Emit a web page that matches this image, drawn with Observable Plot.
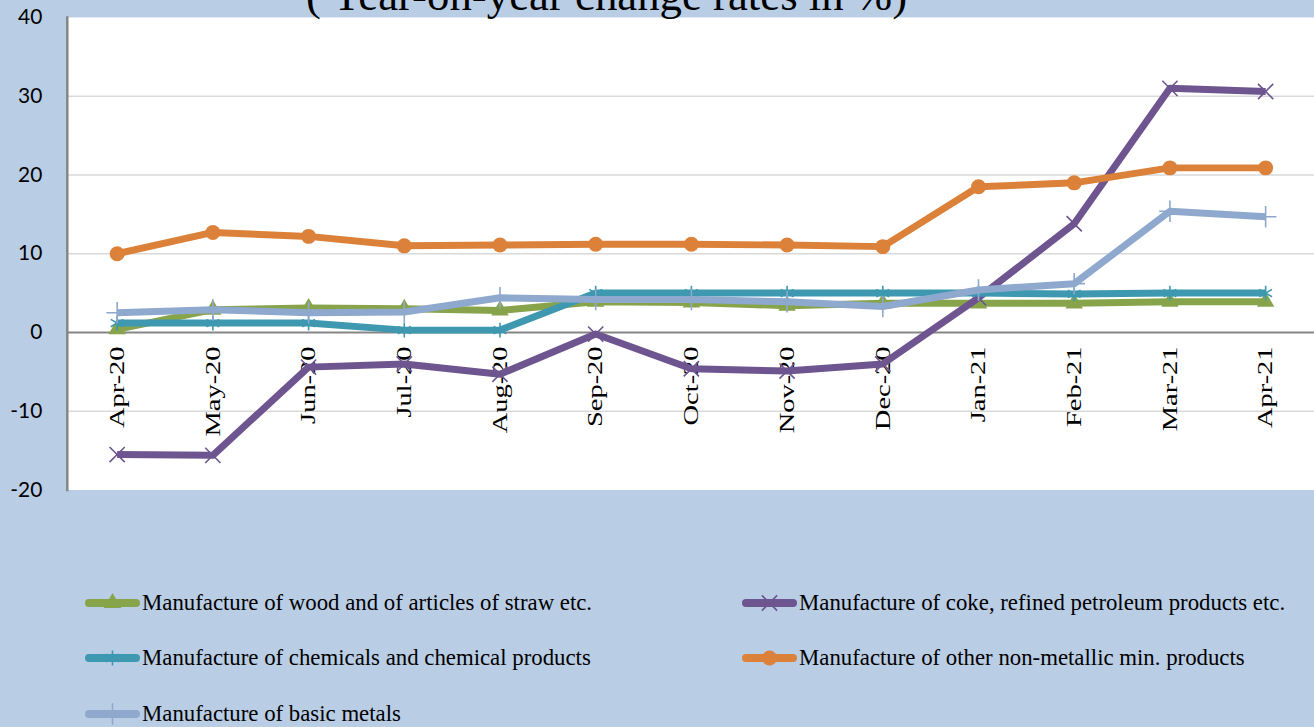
<!DOCTYPE html>
<html>
<head>
<meta charset="utf-8">
<script src="https://cdn.jsdelivr.net/npm/d3@7"></script>
<script src="https://cdn.jsdelivr.net/npm/@observablehq/plot@0.6"></script>
<style>
  html, body { margin: 0; padding: 0; background: #B9CDE5; }
  #wrap { position: relative; width: 1314px; height: 727px; background: #B9CDE5; overflow: hidden; }
  #chart { position: absolute; left: 0; top: 0; }
  #title { position: absolute; left: 306px; top: -27px; font-family: "Liberation Serif", "Times New Roman", serif; font-size: 44.8px; line-height: 1; white-space: nowrap; color: #000; }
  .leg { position: absolute; display: flex; align-items: center; font-family: "Liberation Serif", "Times New Roman", serif; font-size: 22.8px; color: #000; white-space: nowrap; }
  .leg svg { display: block; margin-right: 1px; }
</style>
</head>
<body>
<div id="wrap">
  <div id="chart"></div>
  <div id="title">( Year-on-year change rates in %)</div>
  <div id="legend"></div>
</div>
<script>
const months = ["Apr-20","May-20","Jun-20","Jul-20","Aug-20","Sep-20","Oct-20","Nov-20","Dec-20","Jan-21","Feb-21","Mar-21","Apr-21"];
const yTicks = [-20, -10, 0, 10, 20, 30, 40];
const gridTicks = [-10, 10, 20, 30];

const seriesNames = [
  "Manufacture of wood and of articles of straw etc.",
  "Manufacture of coke, refined petroleum products etc.",
  "Manufacture of chemicals and chemical products",
  "Manufacture of other non-metallic min. products",
  "Manufacture of basic metals"
];
const wood   = [0.4, 2.9, 3.1, 3.0, 2.8, 3.9, 3.8, 3.4, 3.7, 3.7, 3.7, 3.9, 3.9];
const coke   = [-15.5, -15.6, -4.4, -4.0, -5.3, -0.2, -4.6, -4.9, -4.0, 4.4, 13.8, 31.0, 30.6];
const chem   = [1.2, 1.2, 1.2, 0.3, 0.3, 5.0, 5.0, 5.0, 5.0, 5.0, 4.9, 5.0, 5.0];
const nonmet = [10.0, 12.7, 12.2, 11.0, 11.1, 11.2, 11.2, 11.1, 10.9, 18.5, 19.0, 20.9, 20.9];
const metals = [2.5, 2.9, 2.5, 2.6, 4.4, 4.2, 4.2, 3.9, 3.3, 5.4, 6.2, 15.4, 14.7];

const colors  = ["#87A44B", "#6E5590", "#3D98B0", "#DC8139", "#8EA8CE"];
const symbols = ["triangle", "times", "asterisk", "circle", "plus"];
const values  = [wood, coke, chem, nonmet, metals];

const series = seriesNames.map((name, i) => ({
  name, color: colors[i], symbol: symbols[i],
  data: months.map((m, j) => ({month: m, value: values[i][j]}))
}));

const marks = [
  Plot.frame({fill: "white", stroke: null}),
  Plot.ruleY(gridTicks, {stroke: "#D9D9D9", strokeWidth: 1.5}),
  Plot.ruleY([0], {stroke: "#868686", strokeWidth: 2}),
  Plot.frame({anchor: "left", stroke: "#868686", strokeWidth: 2.5}),
  Plot.axisY({ticks: yTicks, tickSize: 0, tickPadding: 25, label: null, tickFormat: d => String(d), fontSize: 21, fontFamily: "Lato, 'Open Sans', sans-serif", fill: "#000", textAnchor: "end"}),
  Plot.text(months, {x: d => d, y: d => 0, text: d => d, rotate: -90, textAnchor: "end", lineAnchor: "middle", dy: 14, fontSize: 21, fontFamily: "'Liberation Serif', 'Times New Roman', serif", fill: "#000"})
];

for (const s of series) {
  marks.push(Plot.line(s.data, {x: "month", y: "value", stroke: s.color, strokeWidth: 7, strokeLinejoin: "round", strokeLinecap: "butt"}));
  const filled = s.symbol === "triangle" || s.symbol === "circle";
  marks.push(Plot.dot(s.data, {
    x: "month", y: "value", symbol: () => s.symbol,
    r: s.symbol === "circle" ? 7.5 : (s.symbol === "triangle" ? 6.5 : 7),
    fill: filled ? s.color : "none",
    stroke: s.color,
    strokeWidth: filled ? 0 : 1.6
  }));
}

const chart = Plot.plot({
  width: 1318,
  height: 500,
  marginTop: 17,
  marginBottom: 9,
  marginLeft: 67,
  marginRight: 0,
  style: {background: "transparent", overflow: "visible"},
  x: {type: "band", domain: months, padding: 0, axis: null},
  y: {domain: [-20, 40], axis: null},
  symbol: {type: "identity"},
  marks
});
document.getElementById("chart").appendChild(chart);

// stretch the rotated month labels along their length, as in the reference
chart.querySelectorAll("text").forEach(t => {
  if (!months.includes(t.textContent)) return;
  const tr = t.getAttribute("transform") || "";
  if (tr.includes("rotate")) t.setAttribute("transform", tr + " scale(1.36,1)");
});

// legend
const legendPos = [
  {left: 83, top: 603}, {left: 740, top: 603},
  {left: 83, top: 658}, {left: 740, top: 658},
  {left: 83, top: 714}
];
const legend = document.getElementById("legend");
series.forEach((s, i) => {
  const p = legendPos[i];
  const item = document.createElement("div");
  item.className = "leg";
  item.style.left = p.left + "px";
  item.style.top = (p.top - 14) + "px";
  item.style.height = "28px";
  const sym = {triangle: d3.symbolTriangle, times: d3.symbolTimes, asterisk: d3.symbolAsterisk, circle: d3.symbolCircle, plus: d3.symbolPlus}[s.symbol];
  const filled = s.symbol === "triangle" || s.symbol === "circle";
  const r = s.symbol === "circle" ? 7.5 : (s.symbol === "triangle" ? 6.5 : 7);
  const path = d3.symbol(sym, Math.PI * r * r)();
  item.innerHTML =
    `<svg width="58" height="28" viewBox="0 0 58 28">
      <line x1="6" x2="53" y1="14" y2="14" stroke="${s.color}" stroke-width="8" stroke-linecap="round"/>
      <path transform="translate(29.5,14)" d="${path}" fill="${filled ? s.color : "none"}" stroke="${s.color}" stroke-width="${filled ? 0 : 1.6}"/>
    </svg><span>${s.name}</span>`;
  legend.appendChild(item);
});
</script>
</body>
</html>
